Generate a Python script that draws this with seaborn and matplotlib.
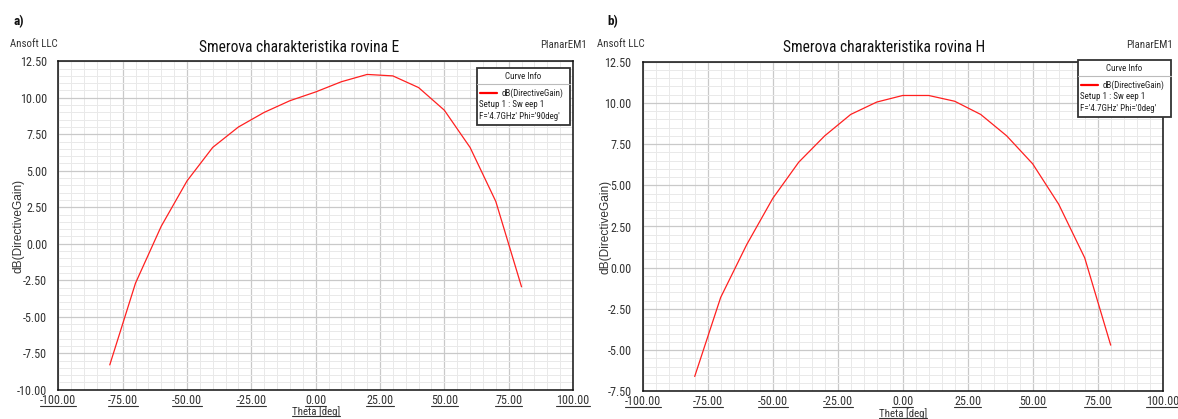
import matplotlib
matplotlib.use('Agg')
import matplotlib.pyplot as plt
from matplotlib.ticker import MultipleLocator, FormatStrFormatter
from matplotlib.lines import Line2D
from matplotlib.patches import Rectangle
import seaborn as sns

# data
theta = [-80, -70, -60, -50, -40, -30, -20, -10, 0, 10, 20, 30, 40, 50, 60, 70, 80]
gain_e = [-8.3, -2.7, 1.2, 4.3, 6.6, 8.0, 9.0, 9.8, 10.4, 11.1, 11.6, 11.5, 10.7, 9.15, 6.6, 2.9, -2.95]
gain_h = [-6.6, -1.8, 1.4, 4.2, 6.4, 8.0, 9.3, 10.05, 10.45, 10.45, 10.1, 9.3, 8.0, 6.3, 3.85, 0.6, -4.7]

panel_tags = ['a)', 'b)']
titles = ['Smerova charakteristika rovina E', 'Smerova charakteristika rovina H']
phi_labels = ["F='4.7GHz' Phi='90deg'", "F='4.7GHz' Phi='0deg'"]
ylims = [(-10, 12.5), (-7.5, 12.5)]
xlim = (-100, 100)

W, H = 1178, 419
sns.set_style('white')
# the export is squeezed sideways, so horizontal text looks condensed
plt.rcParams['font.family'] = ['Liberation Sans Narrow', 'Arial Narrow', 'Roboto Condensed',
                               'Liberation Sans', 'DejaVu Sans']
wide_font = ['Liberation Sans', 'DejaVu Sans']

fig = plt.figure(figsize=(W / 100, H / 100), dpi=100)


def fx(x):
    return x / W


def fy(y):
    return 1 - y / H


# axes boxes in pixels: left, top, right, bottom
boxes = [(58.3, 61.3, 573.0, 389.7), (642.7, 61.7, 1162.7, 391.3)]
# where the texts around each plot sit (pixels)
tag_x = [13, 607]
ylab_x = [25, 611]
corner_left = [10, 597]
title_x = [299, 884]
corner_right = [587, 1173]
info_box = [(476.7, 68.0), (1077.7, 60.0)]

axes = []
for i in range(2):
    l, t, r, b = boxes[i]
    ax = fig.add_axes([fx(l), fy(b), fx(r - l), (b - t) / H])
    axes.append(ax)
    gain = gain_e if i == 0 else gain_h
    sns.lineplot(x=theta, y=gain, ax=ax, color='#ff2020', linewidth=0.9)

    ax.set_xlim(*xlim)
    ax.set_ylim(*ylims[i])
    ax.xaxis.set_major_locator(MultipleLocator(25))
    ax.xaxis.set_minor_locator(MultipleLocator(5))
    ax.yaxis.set_major_locator(MultipleLocator(2.5))
    ax.yaxis.set_minor_locator(MultipleLocator(0.5))
    ax.xaxis.set_major_formatter(FormatStrFormatter('%.2f'))
    ax.yaxis.set_major_formatter(FormatStrFormatter('%.2f'))
    ax.grid(which='major', color='#c9c9c9', linewidth=0.9)
    ax.grid(which='minor', color='#e9e9e9', linewidth=0.7)
    ax.set_axisbelow(True)
    ax.tick_params(which='major', direction='out', length=6, width=1,
                   color='#222222', labelsize=8.7, labelcolor='#333333', pad=2)
    ax.tick_params(which='minor', direction='out', length=3.5, width=0.9, color='#222222')
    ax.tick_params(axis='x', which='major', length=4.5, pad=-1.5)
    ax.tick_params(axis='x', which='minor', length=3)
    for s in ax.spines.values():
        s.set_color('#111111')
        s.set_linewidth(1.1)

    ax.set_ylabel('dB(DirectiveGain)', fontsize=8.6, color='#333333', family=wide_font)
    ax.yaxis.set_label_coords((ylab_x[i] - l) / (r - l), 0.5)
    ax.set_xlabel('Theta [deg]', fontsize=7.8, color='#333333', va='center')
    ax.xaxis.set_label_coords(0.5, -22.0 / (b - t))

    fig.text(fx(tag_x[i]), fy(22), panel_tags[i], fontsize=9.5, fontweight='bold',
             ha='left', va='center', color='#111111')
    fig.text(fx(corner_left[i]), fy(44), 'Ansoft LLC', fontsize=7.8,
             ha='left', va='center', color='#333333')
    fig.text(fx(title_x[i]), fy(47), titles[i], fontsize=11.2,
             ha='center', va='center', color='#111111')
    fig.text(fx(corner_right[i]), fy(45), 'PlanarEM1', fontsize=7.8,
             ha='right', va='center', color='#333333')

    # "Curve Info" box
    bx, by = info_box[i]
    bw, bh = 93.3, 56.7
    fig.add_artist(Rectangle((fx(bx), fy(by + bh)), bw / W, bh / H,
                             transform=fig.transFigure, facecolor='white',
                             edgecolor='#333333', linewidth=1.3, zorder=5))
    fig.add_artist(Line2D([fx(bx), fx(bx + bw)], [fy(by + 16.5)] * 2,
                          color='#bbbbbb', linewidth=0.8, zorder=6))
    fig.text(fx(bx + bw / 2), fy(by + 8.3), 'Curve Info', fontsize=6.5,
             ha='center', va='center', color='#222222', zorder=7)
    fig.add_artist(Line2D([fx(bx + 3), fx(bx + 20)], [fy(by + 25)] * 2,
                          color='#ff0000', linewidth=1.6, zorder=7))
    fig.text(fx(bx + 25), fy(by + 25), 'dB(DirectiveGain)', fontsize=6.5,
             ha='left', va='center', color='#222222', zorder=7)
    fig.text(fx(bx + 2.5), fy(by + 36.5), 'Setup 1 : Sw eep 1', fontsize=6.5,
             ha='left', va='center', color='#222222', zorder=7)
    fig.text(fx(bx + 2.5), fy(by + 48.5), phi_labels[i], fontsize=6.5,
             ha='left', va='center', color='#222222', zorder=7)

# underline the x tick labels and the x axis label, like the HFSS export
fig.canvas.draw()
for ax in axes:
    lo, hi = ax.get_xlim()
    labs = [lab for tick, lab in zip(ax.get_xticks(), ax.get_xticklabels())
            if lo - 1e-9 <= tick <= hi + 1e-9]
    for lab in labs + [ax.xaxis.label]:
        bb = lab.get_window_extent()
        yy = (bb.y0 + 1.0) / H
        fig.add_artist(Line2D([bb.x0 / W, bb.x1 / W], [yy, yy],
                              color='#333333', linewidth=0.8))

fig.savefig('out.png', dpi=100)
